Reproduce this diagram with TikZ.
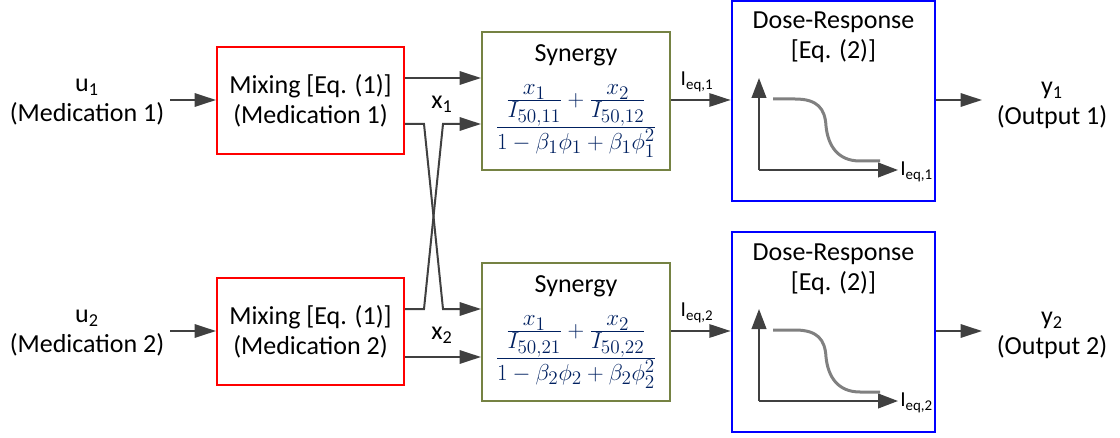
\documentclass[tikz,border=0pt]{standalone}
\usepackage{amsmath}
\usepackage{fontspec}
\setmainfont{Carlito}
\usetikzlibrary{arrows.meta}
\definecolor{arr}{RGB}{64,64,64}
\definecolor{oliv}{RGB}{117,130,67}
\definecolor{navy}{RGB}{0,32,96}
\definecolor{curvegray}{RGB}{128,128,128}
\newcommand{\tsfrac}[2]{{\textstyle\frac{\textstyle #1}{\textstyle #2}}}
\begin{document}
\begin{tikzpicture}[x=0.75pt,y=-0.75pt,
  txt/.style={font=\fontsize{19.5}{22.5}\selectfont, align=center, inner sep=0pt},
  small/.style={font=\fontsize{16}{19}\selectfont, inner sep=0pt},
  sig/.style={draw=arr, line width=1.5pt, -{Triangle[length=16pt,width=10pt]}},
  axisline/.style={draw=arr, line width=1.5pt, -{Triangle[length=15pt,width=11pt]}},
  mixbox/.style={draw=red, line width=1.5pt, minimum width=140.25pt, minimum height=80.25pt, txt},
  synbox/.style={draw=oliv, line width=1.5pt, minimum width=141pt, minimum height=104pt, inner sep=0pt},
  dosebox/.style={draw=blue, line width=2pt, minimum width=152.25pt, minimum height=150pt, inner sep=0pt},
  curveline/.style={draw=curvegray, line width=2.25pt},
  formula/.style={text=navy, font=\fontsize{19}{23}\selectfont, inner sep=0pt}
]
\useasboundingbox (0,0) rectangle (1120,438);

% inputs
\node[txt] (u1) at (87,102) {u\textsubscript{1}\\(Medication 1)};
\node[txt] (u2) at (87,333) {u\textsubscript{2}\\(Medication 2)};
\coordinate (u1s) at (170,100);
\coordinate (u2s) at (170,331);

% mixing boxes
\node[mixbox] (mix1) at (310.5,100.5) {Mixing [Eq. (1)]\\(Medication 1)};
\node[mixbox] (mix2) at (310.5,331.5) {Mixing [Eq. (1)]\\(Medication 2)};

% synergy boxes
\node[synbox] (syn1) at (576,101) {};
\node[synbox] (syn2) at (576,332) {};
\node[txt] (syn1t) at (576,55) {Synergy};
\node[txt] (syn2t) at (576,286) {Synergy};
\node[formula] (syn1f) at (576,121) {$\tsfrac{\tsfrac{x_1}{I_{50,11}}+\tsfrac{x_2}{I_{50,12}}}{\rule{0pt}{14pt}1-\beta_1\phi_1+\beta_1\phi_1^2}$};
\node[formula] (syn2f) at (576,352) {$\tsfrac{\tsfrac{x_1}{I_{50,21}}+\tsfrac{x_2}{I_{50,22}}}{\rule{0pt}{14pt}1-\beta_2\phi_2+\beta_2\phi_2^2}$};

% dose-response boxes
\node[dosebox] (dose1) at (833.5,101) {};
\node[dosebox] (dose2) at (833.5,332) {};
\node[txt] (dose1t) at (833.5,37) {Dose-Response\\{[Eq. (2)]}};
\node[txt] (dose2t) at (833.5,269) {Dose-Response\\{[Eq. (2)]}};

% outputs
\node[txt] (y1) at (1052,105) {y\textsubscript{1}\\(Output 1)};
\node[txt] (y2) at (1052,335) {y\textsubscript{2}\\(Output 2)};
\coordinate (y1e) at (982,100);
\coordinate (y2e) at (982,331);

% input arrows
\draw[sig] (u1s) -- (mix1.west |- u1s);
\draw[sig] (u2s) -- (mix2.west |- u2s);

% mixing outputs
\draw[sig] (mix1.east |- 0,78) -- (syn1.west |- 0,78);
\draw[sig] (mix2.east |- 0,357) -- (syn2.west |- 0,357);
\draw[sig] (mix1.east |- 0,124) -- (424,124) -- (443,309) -- (syn2.west |- 0,309);
\draw[sig] (mix2.east |- 0,309) -- (424,309) -- (443,124) -- (syn1.west |- 0,124);
\node[txt] (x1) at (442,104) {x\textsubscript{1}};
\node[txt] (x2) at (442,335) {x\textsubscript{2}};

% synergy outputs
\draw[sig] (syn1.east |- 0,100) -- (dose1.west |- 0,100);
\draw[sig] (syn2.east |- 0,331) -- (dose2.west |- 0,331);
\node[small] (ieq1) at (697,82) {I\textsubscript{eq,1}};
\node[small] (ieq2) at (697,313) {I\textsubscript{eq,2}};

% dose outputs
\draw[sig] (dose1.east |- y1e) -- (y1e);
\draw[sig] (dose2.east |- y2e) -- (y2e);

% plots
\foreach \n/\c in {1/101,2/332}{
  \begin{scope}[shift={(0,\c)}]
    \coordinate (o\n) at (759,69);
    \draw[axisline] (o\n) -- (759,-23);
    \draw[axisline] (o\n) -- (898,69);
    \draw[curveline] (773,-2) -- (795,-2) .. controls (818,-2) and (825,8) .. (826,25)
       .. controls (828,45) and (838,60) .. (860,60) -- (880,60);
    \node[small, anchor=west] (ax\n) at (900,71) {I\textsubscript{eq,\n}};
  \end{scope}
}
\end{tikzpicture}
\end{document}
